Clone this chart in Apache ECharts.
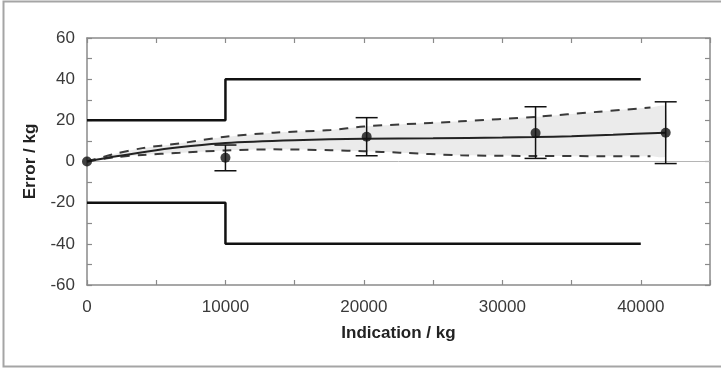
<!DOCTYPE html>
<html>
<head>
<meta charset="utf-8">
<style>
html,body{margin:0;padding:0;background:#fff;}
#chart{width:721px;height:370px;}
</style>
<script src="https://cdn.jsdelivr.net/npm/echarts@6/dist/echarts.min.js"></script>
</head>
<body>
<div id="chart"></div>
<script>
// ---- data ----
var limitX = [0, 10000, 10000, 40000];
var upperLimit = [20, 20, 40, 40];
var lowerLimit = [-20, -20, -40, -40];

var pointX = [0, 10000, 20200, 32400, 41800];
var pointY = [0, 1.8, 12, 13.8, 14];
var errLow = [0, -4.5, 2.8, 1.5, -1];
var errHigh = [0, 8, 21.3, 26.6, 29];

var fitX = [0, 2000, 5000, 7500, 10000, 15000, 20000, 25000, 30000, 32400, 35000, 38000, 41800];
var fitY = [0, 2.4, 5.5, 7.5, 9, 10.3, 11.1, 11.3, 11.6, 11.9, 12.3, 13, 14];

var bandX = [0, 1900, 4000, 6700, 10000, 13500, 17600, 20000, 22600, 27000, 32400, 37000, 40700, 41800];
var bandUpper = [0, 3.5, 6.5, 8.8, 12, 14, 15.3, 17, 18, 19.5, 21.7, 24.2, 26.2, 26.8];
var bandLower = [0, 2, 3.2, 4.2, 5.4, 5.9, 5.5, 5, 4.3, 3.0, 2.7, 2.6, 2.6, 2.6];

var xTickLabels = [0, 10000, 20000, 30000, 40000];
var yTickLabels = [-60, -40, -20, 0, 20, 40, 60];

// ---- helpers ----
function pairs(xs, ys) { return xs.map(function (x, i) { return [x, ys[i]]; }); }
var dashEnd = 41000;
function dashPairs(ys) {
  return bandX.map(function (x, i) { return [x, ys[i]]; }).filter(function (p) { return p[0] <= dashEnd; });
}
var errData = pointX.map(function (x, i) { return [x, errLow[i], errHigh[i]]; })
  .filter(function (d) { return d[1] !== d[2]; });

var FONT = '"Liberation Sans", Arial, Helvetica, sans-serif';
var axisGray = '#8a8a8a';
var labelColor = '#3a3a3a';

var chart = echarts.init(document.getElementById('chart'));
var option = {
  backgroundColor: '#fff',
  animation: false,
  graphic: [{
    type: 'rect',
    shape: { x: 3.5, y: 1.5, width: 730, height: 365 },
    style: { fill: 'none', stroke: '#a5a5a5', lineWidth: 2 },
    silent: true, z: -10
  }],
  grid: { left: 87, right: 11, top: 38, bottom: 85, containLabel: false },
  xAxis: [{
    type: 'value', min: 0, max: 45000, interval: 5000, position: 'bottom',
    name: 'Indication / kg', nameLocation: 'middle', nameGap: 40,
    nameTextStyle: { fontFamily: FONT, fontSize: 17, fontWeight: 'bold', color: '#222' },
    axisLine: { show: true, onZero: false, lineStyle: { color: axisGray, width: 1.5 } },
    axisTick: { show: true, inside: true, length: 5, lineStyle: { color: axisGray, width: 1.2 } },
    axisLabel: {
      margin: 14, fontFamily: FONT, fontSize: 17, color: labelColor,
      formatter: function (v) { return xTickLabels.indexOf(v) >= 0 ? String(v) : ''; }
    },
    splitLine: { show: false }
  }, {
    type: 'value', min: 0, max: 45000, interval: 5000, position: 'top',
    axisLine: { show: true, onZero: false, lineStyle: { color: axisGray, width: 1.5 } },
    axisTick: { show: true, inside: true, length: 5, lineStyle: { color: axisGray, width: 1.2 } },
    axisLabel: { show: false }, splitLine: { show: false }
  }],
  yAxis: [{
    type: 'value', min: -60, max: 60, interval: 10, position: 'left',
    name: 'Error / kg', nameLocation: 'middle', nameGap: 48, nameRotate: 90,
    nameTextStyle: { fontFamily: FONT, fontSize: 17, fontWeight: 'bold', color: '#222' },
    axisLine: { show: true, onZero: false, lineStyle: { color: axisGray, width: 1.5 } },
    axisTick: { show: true, inside: true, length: 5, lineStyle: { color: axisGray, width: 1.2 } },
    axisLabel: {
      margin: 12, fontFamily: FONT, fontSize: 17, color: labelColor,
      formatter: function (v) { return yTickLabels.indexOf(v) >= 0 ? String(v) : ''; }
    },
    splitLine: { show: false }
  }, {
    type: 'value', min: -60, max: 60, interval: 10, position: 'right',
    axisLine: { show: true, onZero: false, lineStyle: { color: axisGray, width: 1.5 } },
    axisTick: { show: true, inside: true, length: 5, lineStyle: { color: axisGray, width: 1.2 } },
    axisLabel: { show: false }, splitLine: { show: false }
  }],
  series: [
    {
      // uncertainty band
      type: 'custom', xAxisIndex: 0, yAxisIndex: 0, z: 1, silent: true,
      data: [[0, 0]],
      renderItem: function (params, api) {
        var pts = [];
        for (var i = 0; i < bandX.length; i++) pts.push(api.coord([bandX[i], bandUpper[i]]));
        for (var j = bandX.length - 1; j >= 0; j--) pts.push(api.coord([bandX[j], bandLower[j]]));
        return { type: 'polygon', shape: { points: pts, smooth: 0.2 }, style: { fill: '#ebebeb', stroke: 'none' } };
      }
    },
    {
      // zero line
      type: 'line', z: 2, silent: true, symbol: 'none',
      data: [[0, 0], [45000, 0]],
      lineStyle: { color: '#b5b5b5', width: 1 }
    },
    {
      type: 'line', z: 3, symbol: 'none', silent: true,
      data: pairs(limitX, upperLimit),
      lineStyle: { color: '#111', width: 2.5 }
    },
    {
      type: 'line', z: 3, symbol: 'none', silent: true,
      data: pairs(limitX, lowerLimit),
      lineStyle: { color: '#111', width: 2.5 }
    },
    {
      type: 'line', z: 4, symbol: 'none', silent: true, smooth: 0.3,
      data: dashPairs(bandUpper),
      lineStyle: { color: '#3a3a3a', width: 2, type: [9, 8] }
    },
    {
      type: 'line', z: 4, symbol: 'none', silent: true, smooth: 0.3,
      data: dashPairs(bandLower),
      lineStyle: { color: '#3a3a3a', width: 2, type: [9, 8] }
    },
    {
      type: 'line', z: 5, symbol: 'none', silent: true, smooth: 0.3,
      data: pairs(fitX, fitY),
      lineStyle: { color: '#222', width: 2 }
    },
    {
      // error bars
      type: 'custom', z: 6, silent: true,
      data: errData,
      renderItem: function (params, api) {
        var x = api.value(0);
        var pLo = api.coord([x, api.value(1)]);
        var pHi = api.coord([x, api.value(2)]);
        var w = 11;
        var st = { stroke: '#111', lineWidth: 1.5 };
        return {
          type: 'group', children: [
            { type: 'line', shape: { x1: pLo[0], y1: pLo[1], x2: pHi[0], y2: pHi[1] }, style: st },
            { type: 'line', shape: { x1: pLo[0] - w, y1: pLo[1], x2: pLo[0] + w, y2: pLo[1] }, style: st },
            { type: 'line', shape: { x1: pHi[0] - w, y1: pHi[1], x2: pHi[0] + w, y2: pHi[1] }, style: st }
          ]
        };
      }
    },
    {
      type: 'scatter', z: 7, silent: true, clip: false,
      symbol: 'circle', symbolSize: 10,
      data: pairs(pointX, pointY),
      itemStyle: { color: '#111' }
    }
  ]
};
chart.setOption(option);
</script>
</body>
</html>
